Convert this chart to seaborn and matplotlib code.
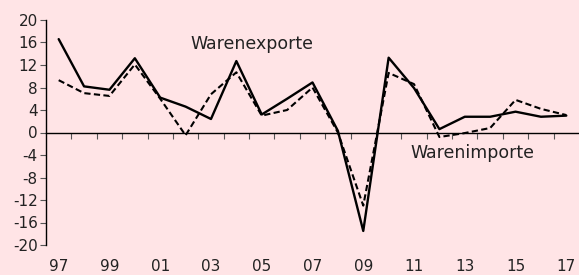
import pandas as pd
import matplotlib
matplotlib.use("Agg")
import matplotlib.pyplot as plt
import seaborn as sns

years = list(range(1997, 2018))
exporte = [16.6, 8.2, 7.6, 13.2, 6.2, 4.6, 2.4, 12.7, 3.2, 6.0, 8.9, 0.3, -17.5, 13.3, 7.9, 0.6, 2.8, 2.8, 3.7, 2.8, 3.0]
importe = [9.3, 7.0, 6.5, 12.1, 6.0, -0.5, 6.8, 10.7, 3.0, 4.0, 8.0, 0.0, -13.0, 10.6, 8.6, -0.8, -0.1, 0.8, 5.8, 4.2, 3.1]
year_labels = ["97", "99", "01", "03", "05", "07", "09", "11", "13", "15", "17"]
y_ticks = [20, 16, 12, 8, 4, 0, -4, -8, -12, -16, -20]

bg = "#ffe4e6"
sns.set_style("white")
plt.rcParams['font.family'] = ['DejaVu Sans']

df = pd.DataFrame({"Jahr": years, "Warenexporte": exporte, "Warenimporte": importe})

fig = plt.figure(figsize=(5.79, 2.75), dpi=100, facecolor=bg)
ax = fig.add_axes([46 / 579, 30 / 275, 533 / 579, 225 / 275])
ax.set_facecolor(bg)

sns.lineplot(data=df, x="Jahr", y="Warenimporte", ax=ax, color="black", linewidth=1.5,
             dashes=False, linestyle=(0, (3, 1.6)))
sns.lineplot(data=df, x="Jahr", y="Warenexporte", ax=ax, color="black", linewidth=1.7)

ax.set_xlim(1996.5, 2017.5)
ax.set_ylim(-20, 20)
ax.set_xlabel("")
ax.set_ylabel("")

for s in ["top", "right"]:
    ax.spines[s].set_visible(False)
ax.spines["left"].set_color("black")
ax.spines["left"].set_linewidth(1.0)
ax.spines["bottom"].set_position(("data", 0))
ax.spines["bottom"].set_color("black")
ax.spines["bottom"].set_linewidth(1.0)

ax.set_yticks(y_ticks)
ax.set_yticklabels([str(t) for t in y_ticks], fontsize=11, color="#222222")
ax.tick_params(axis="y", direction="out", length=4, width=0.8, color="#555555", pad=2, left=True)
ax.set_xticks([y + 0.5 for y in years[:-1]])
ax.set_xticklabels([])
ax.tick_params(axis="x", direction="out", length=4, width=0.8, color="#555555", bottom=True)

ax2 = ax.twiny()
ax2.set_xlim(ax.get_xlim())
ax2.xaxis.set_ticks_position("bottom")
ax2.set_xticks(years[::2])
ax2.set_xticklabels(year_labels, fontsize=11, color="#222222")
ax2.tick_params(axis="x", length=0, pad=10)
for s in ax2.spines.values():
    s.set_visible(False)

ax.text(2004.6, 15.7, "Warenexporte", fontsize=12.5, color="#222222", ha="center", va="center")
ax.text(2013.3, -3.6, "Warenimporte", fontsize=12.5, color="#222222", ha="center", va="center")

fig.savefig("out.png", dpi=100, facecolor=bg)
